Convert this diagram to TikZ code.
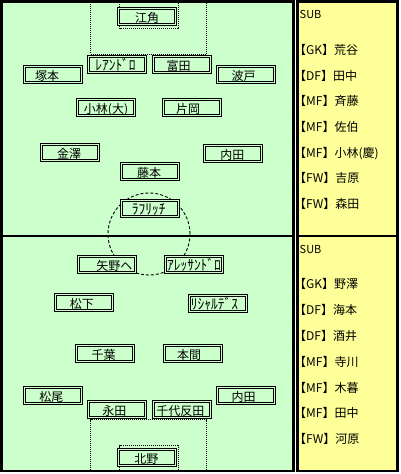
\documentclass[tikz,border=0pt]{standalone}
\usepackage{fontspec}
\usepackage{graphicx}
\setmainfont{Noto Sans CJK JP}
\definecolor{pitch}{RGB}{204,255,204}
\definecolor{subbg}{RGB}{255,255,153}
\newcommand{\hwk}[1]{\raisebox{-0.6pt}{\scalebox{1.12}[1.2]{#1}}}
\begin{document}
\begin{tikzpicture}[x=1pt,y=-1pt,
  frame/.style={line width=2.5pt},
  markline/.style={line width=1pt, dash pattern=on 1pt off 1pt},
  circline/.style={line width=0.9pt, dash pattern=on 3pt off 2pt},
  pbox/.style={draw=black, line width=1pt, double=pitch, double distance=1pt,
    fill=pitch, minimum width=57pt, minimum height=16pt, inner sep=0pt, outer sep=0pt},
  every label/.style={font=\fontsize{12}{12}\selectfont, text height=11.5pt, text depth=0.5pt, inner sep=0pt},
  subtxt/.style={anchor=west, inner sep=0pt, font=\fontsize{12}{12}\selectfont, text height=11.5pt, text depth=0.5pt},
]
\useasboundingbox (0,0) rectangle (400,474);
\fill[white] (0,0) rectangle (400,474);
\fill[pitch] (0,0) rectangle (295,472);
\fill[subbg] (296,0) rectangle (399,472);
% pitch markings
\draw[markline] (90.5,0) -- (90.5,54) -- (206.5,54) -- (206.5,0);
\draw[markline] (119.5,0) -- (119.5,28.5) -- (178,28.5) -- (178,0);
\draw[markline] (90.5,472) -- (90.5,419.5) -- (206.5,419.5) -- (206.5,472);
\draw[markline] (119.5,472) -- (119.5,445.5) -- (178,445.5) -- (178,472);
\draw[circline] (149,234) circle[radius=41pt];
% frames
\draw[frame] (1.25,1.25) rectangle (293.5,471);
\draw[frame] (0,236) -- (295,236);
\draw[frame] (297.5,1.25) rectangle (397.5,471);
\draw[frame] (296,236) -- (399,236);
% top team
\node[pbox, label={[xshift=0pt]center:江角}] (p1) at (147,16.5) {};
\node[pbox, label={[xshift=-1.5pt]center:\hwk{ﾚｱﾝﾄﾞﾛ}}] (p2) at (117,64.5) {};
\node[pbox, label={[xshift=-3.4pt]center:富田}] (p3) at (182,64.5) {};
\node[pbox, label={[xshift=-5.8pt]center:塚本}] (p4) at (53,74.5) {};
\node[pbox, label={[xshift=-2.4pt]center:波戸}] (p5) at (246,74.5) {};
\node[pbox, label={[xshift=0pt]center:小林(大)}] (p6) at (106,107.5) {};
\node[pbox, label={[xshift=-4pt]center:片岡}] (p7) at (192,107.5) {};
\node[pbox, label={[xshift=-1pt]center:金澤}] (p8) at (70,152.5) {};
\node[pbox, label={[xshift=-0.6pt]center:内田}] (p9) at (233,153.5) {};
\node[pbox, label={[xshift=-0.8pt]center:藤本}] (p10) at (150,171.5) {};
\node[pbox, label={[xshift=-1.3pt]center:\hwk{ﾗﾌﾘｯﾁ}}] (p11) at (150,208.5) {};
% bottom team
\node[pbox, label={[xshift=7.4pt]center:矢野ヘ}] (q1) at (107,264.5) {};
\node[pbox, label={[xshift=0pt]center:\hwk{ｱﾚｯｻﾝﾄﾞﾛ}}] (q2) at (194,264.5) {};
\node[pbox, label={[xshift=-2.2pt]center:松下}] (q3) at (84,302.5) {};
\node[pbox, label={[xshift=-3.5pt]center:\hwk{ﾘｼｬﾙﾃﾞｽ}}] (q4) at (218,303.5) {};
\node[pbox, label={[xshift=-1.3pt]center:千葉}] (q5) at (105,353.5) {};
\node[pbox, label={[xshift=-4pt]center:本間}] (q6) at (193,353.5) {};
\node[pbox, label={[xshift=-1.6pt]center:松尾}] (q7) at (53,395.5) {};
\node[pbox, label={[xshift=-2.4pt]center:内田}] (q8) at (246,395.5) {};
\node[pbox, label={[xshift=-2.7pt]center:永田}] (q9) at (117,409.5) {};
\node[pbox, label={[xshift=-1.7pt]center:千代反田}] (q10) at (182,409.5) {};
\node[pbox, label={[xshift=-0.6pt]center:北野}] (q11) at (147,457.5) {};
% substitutes
\node[subtxt, font=\fontsize{11}{11}\selectfont] (s0) at (299.5,12.5) {SUB};
\node[subtxt] (s1) at (294,49) {【GK】荒谷};
\node[subtxt] (s2) at (294,75) {【DF】田中};
\node[subtxt] (s3) at (294,100) {【MF】斉藤};
\node[subtxt] (s4) at (294,125.7) {【MF】佐伯};
\node[subtxt] (s5) at (294,151.7) {【MF】小林(慶)};
\node[subtxt] (s6) at (294,177.3) {【FW】吉原};
\node[subtxt] (s7) at (294,203) {【FW】森田};
\node[subtxt, font=\fontsize{11}{11}\selectfont] (t0) at (299.5,247.5) {SUB};
\node[subtxt] (t1) at (294,283.3) {【GK】野澤};
\node[subtxt] (t2) at (294,309) {【DF】海本};
\node[subtxt] (t3) at (294,335) {【DF】酒井};
\node[subtxt] (t4) at (294,360.7) {【MF】寺川};
\node[subtxt] (t5) at (294,386.7) {【MF】木暮};
\node[subtxt] (t6) at (294,412.3) {【MF】田中};
\node[subtxt] (t7) at (294,438) {【FW】河原};
\end{tikzpicture}
\end{document}
